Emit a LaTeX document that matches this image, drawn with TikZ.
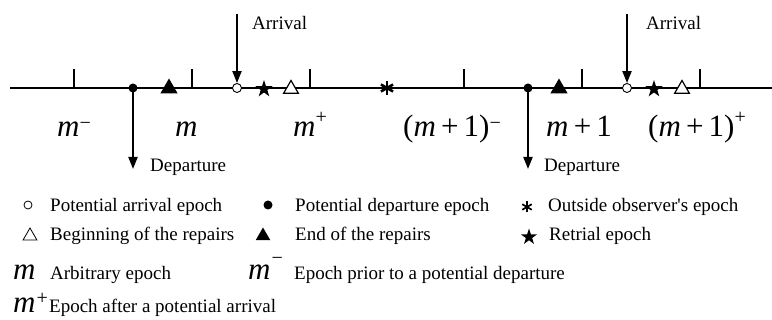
\documentclass[tikz,border=0pt]{standalone}
\usepackage{fontspec}
\setmainfont{Liberation Serif}[Ligatures=TeXOff]
\usetikzlibrary{arrows.meta,shapes.geometric}
\newcommand\txtsize{\fontsize{19}{22}\selectfont}
\newcommand\bigsize{\fontsize{31}{34}\selectfont}
\newcommand\supsize{\fontsize{20}{20}\selectfont}
\newcommand\mi{\textit{m}}
\newcommand\supminus{\raisebox{7pt}{\supsize −}}
\newcommand\supplus{\raisebox{13.5pt}{\supsize +}}
\newcommand\plusop{\,+\,}
\tikzset{
  axisline/.style={line width=2pt},
  tickmark/.style={line width=2pt},
  arr/.style={line width=2pt,-{Triangle[length=12pt,width=9pt]}},
  lbl/.style={font=\txtsize,inner sep=0pt,anchor=base west},
  biglbl/.style={font=\bigsize,inner sep=0pt,anchor=base west},
  opendot/.style={circle,draw,fill=white,line width=0.9pt,minimum size=9pt,inner sep=0pt},
  filldot/.style={circle,fill=black,minimum size=9pt,inner sep=0pt},
  filltri/.style={regular polygon,regular polygon sides=3,fill=black,minimum size=20pt,inner sep=0pt},
  opentri/.style={regular polygon,regular polygon sides=3,draw,fill=white,line width=1.2pt,minimum size=17pt,inner sep=0pt},
  starmark/.style={star,star points=5,star point ratio=2.6,fill=black,minimum size=18pt,inner sep=0pt},
}
\begin{document}
\begin{tikzpicture}[x=1pt,y=-1pt]
\useasboundingbox (0,0) rectangle (772,320);
% axis
\coordinate (L) at (10,88);
\coordinate (R) at (772,88);
\draw[axisline] (L) -- (R);
% ticks
\foreach \n/\x in {t1/74,t2/192,t3/310,t4/464,t5/582,t6/700}{
  \coordinate (\n) at (\x,88);
  \draw[tickmark] (\n) -- ++(0,-19);
}
% first group
\node[filldot] (d1) at (133,88) {};
\node[filltri] (e1) at (169,88.5) {};
\node[opendot] (a1) at (237,88) {};
\node[starmark] (s1) at (264,89) {};
\node[opentri] (b1) at (291,89) {};
% asterisk
\coordinate (ast) at (387,88);
\foreach \ang in {90,30,150}{
  \draw[line width=2.6pt] (ast) ++(\ang:7) -- ++(\ang+180:14);
}
% second group
\node[filldot] (d2) at (528,88) {};
\node[filltri] (e2) at (559,88.5) {};
\node[opendot] (a2) at (627,88) {};
\node[starmark] (s2) at (654,89) {};
\node[opentri] (b2) at (682,89) {};
% arrows
\coordinate (atop1) at (237,14);
\coordinate (atop2) at (627,14);
\coordinate (dend1) at (133,169);
\coordinate (dend2) at (528,169);
\draw[arr] (atop1) -- (a1.north);
\draw[arr] (atop2) -- (a2.north);
\draw[arr] (d1.center) -- (dend1);
\draw[arr] (d2.center) -- (dend2);
\node[lbl] (arrlbl1) at (252,30) {Arrival};
\node[lbl] (arrlbl2) at (646,30) {Arrival};
\node[lbl] (deplbl1) at (150,172) {Departure};
\node[lbl] (deplbl2) at (544,172) {Departure};
% big labels
\node[biglbl] (mm) at (57,137) {\mi\supminus};
\node[biglbl] (m0) at (175,137) {\mi};
\node[biglbl] (mp) at (293,137) {\mi\supplus};
\node[biglbl] (m1m) at (403,137) {(\mi\plusop1)\supminus};
\node[biglbl] (m1) at (546,137) {\mi\plusop1};
\node[biglbl] (m1p) at (648,137) {(\mi\plusop1)\supplus};
% legend row 1
\node[opendot,minimum size=8pt,line width=0.8pt] (lg1) at (28,205) {};
\node[lbl] (lt1) at (50,212) {Potential arrival epoch};
\node[filldot,minimum size=9pt] (lg2) at (268,205) {};
\node[lbl] (lt2) at (295,212) {Potential departure epoch};
\coordinate (lg3) at (527,207);
\foreach \ang in {90,30,150}{
  \draw[line width=1.7pt] (lg3) ++(\ang:5.5) -- ++(\ang+180:11);
}
\node[lbl] (lt3) at (548,212) {Outside observer's epoch};
% legend row 2
\node[opentri,minimum size=16pt,line width=0.8pt] (lg4) at (30,236) {};
\node[lbl] (lt4) at (50,241) {Beginning of the repairs};
\node[filltri,minimum size=17pt] (lg5) at (263,236) {};
\node[lbl] (lt5) at (295,241) {End of the repairs};
\node[starmark,minimum size=17pt] (lg6) at (529,237) {};
\node[lbl] (lt6) at (549,241) {Retrial epoch};
% legend row 3
\node[biglbl] (lg7) at (13,280) {\mi};
\node[lbl] (lt7) at (50,280) {Arbitrary epoch};
\node[biglbl] (lg8) at (248,280) {\mi\kern1pt\raisebox{15pt}{\supsize −}};
\node[lbl] (lt8) at (294,280) {Epoch prior to a potential departure};
% legend row 4
\node[biglbl] (lg9) at (13,313) {\mi\kern1pt\raisebox{8pt}{\supsize +}};
\node[lbl] (lt9) at (49,313) {Epoch after a potential arrival};
\end{tikzpicture}
\end{document}
